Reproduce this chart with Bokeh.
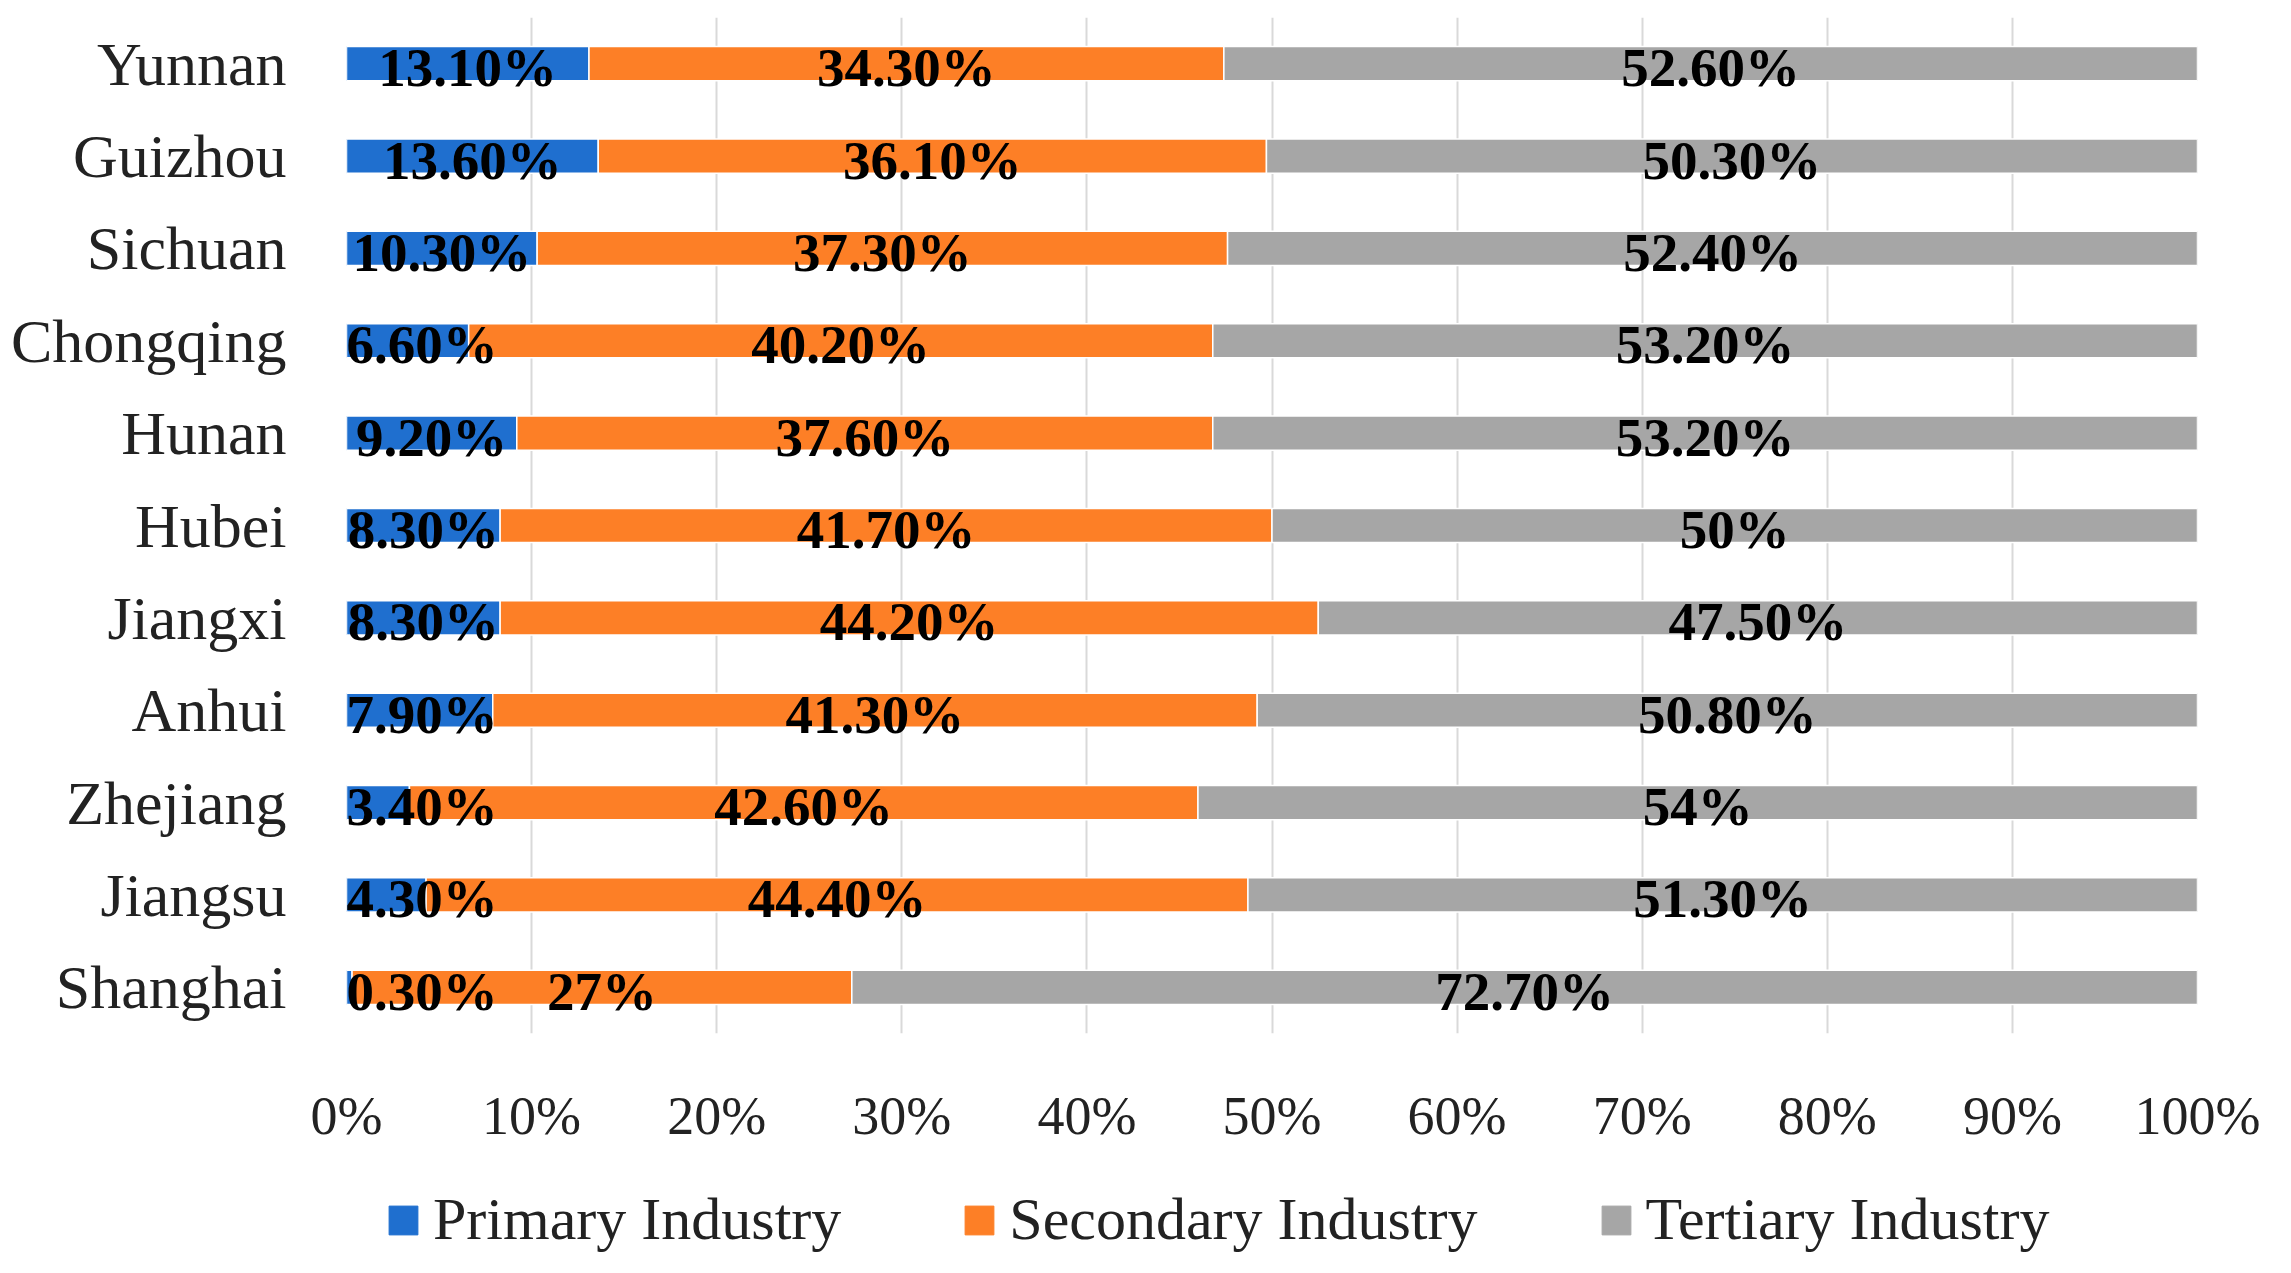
from bokeh.plotting import figure
from bokeh.layouts import column
from bokeh.models import (ColumnDataSource, FactorRange, Range1d, FixedTicker,
                          PrintfTickFormatter, Legend, LegendItem)
from bokeh.core.properties import value
from bokeh.embed import file_html
from bokeh.resources import INLINE

# ---- data (top to bottom as in the chart) ----
provinces = ["Yunnan", "Guizhou", "Sichuan", "Chongqing", "Hunan", "Hubei",
             "Jiangxi", "Anhui", "Zhejiang", "Jiangsu", "Shanghai"]
primary = [13.1, 13.6, 10.3, 6.6, 9.2, 8.3, 8.3, 7.9, 3.4, 4.3, 0.3]
secondary = [34.3, 36.1, 37.3, 40.2, 37.6, 41.7, 44.2, 41.3, 42.6, 44.4, 27.0]
tertiary = [52.6, 50.3, 52.4, 53.2, 53.2, 50.0, 47.5, 50.8, 54.0, 51.3, 72.7]
series_names = ["Primary Industry", "Secondary Industry", "Tertiary Industry"]
x_ticks = [0, 10, 20, 30, 40, 50, 60, 70, 80, 90, 100]

colors = ["#1F6FCF", "#FD7F26", "#A6A6A6"]
SERIF = "Liberation Serif"

W = 2275
MAIN_H = 1170
FL, FR, FT, FB = 346, 78, 17, 137   # frame 1851 x 1016
FRAME_W = W - FL - FR

p = figure(width=W, height=MAIN_H, output_backend="svg",
           toolbar_location=None, title=None,
           y_range=FactorRange(factors=list(reversed(provinces)), range_padding=0),
           x_range=Range1d(0, 100),
           min_border_left=FL, min_border_right=FR, min_border_top=FT,
           min_border_bottom=FB)
p.outline_line_color = None
p.background_fill_color = "white"
p.border_fill_color = "white"

def fmt(v):
    return "%d%%" % round(v) if abs(v - round(v)) < 1e-9 else "%.2f%%" % v

all_series = [primary, secondary, tertiary]
label_x, label_y, label_t = [], [], []
px_per_unit = FRAME_W / 100.0
lab_size = 55
for i, vals in enumerate(all_series):
    left = [sum(s[k] for s in all_series[:i]) for k in range(len(provinces))]
    right = [l + v for l, v in zip(left, vals)]
    src = ColumnDataSource(dict(y=provinces, left=left, right=right))
    p.hbar(y="y", left="left", right="right", height=0.37, source=src,
           fill_color=colors[i], line_color="white", line_width=1.5)
    for k, v in enumerate(vals):
        t = fmt(v)
        wpx = lab_size * sum(1.0 if c == "%" else (0.25 if c == "." else 0.5) for c in t)
        half = wpx / 2 / px_per_unit
        mid = (left[k] + right[k]) / 2
        label_x.append(max(mid, half))
        label_y.append(provinces[k])
        label_t.append(t)

lsrc = ColumnDataSource(dict(x=label_x, y=label_y, t=label_t))
p.text(x="x", y="y", text="t", source=lsrc, text_align="center",
       text_baseline="middle", y_offset=4, text_font=value(SERIF),
       text_font_style="bold", text_font_size="%dpx" % lab_size, text_color="black")

# axes
p.xaxis.ticker = FixedTicker(ticks=x_ticks)
p.xaxis.formatter = PrintfTickFormatter(format="%d%%")
p.xaxis.axis_line_color = None
p.xaxis.major_tick_line_color = None
p.xaxis.minor_tick_line_color = None
p.xaxis.major_tick_out = 0
p.xaxis.major_tick_in = 0
p.xaxis.major_label_standoff = 52
p.xaxis.major_label_text_font = SERIF
p.xaxis.major_label_text_font_size = "54px"
p.xaxis.major_label_text_color = "#222222"

p.yaxis.axis_line_color = None
p.yaxis.major_tick_line_color = None
p.yaxis.minor_tick_line_color = None
p.yaxis.major_tick_out = 0
p.yaxis.major_tick_in = 0
p.yaxis.major_label_standoff = 60
p.yaxis.major_label_text_font = SERIF
p.yaxis.major_label_text_font_size = "62px"
p.yaxis.major_label_text_color = "#222222"

p.ygrid.grid_line_color = None
p.xgrid.grid_line_color = "#D9D9D9"
p.xgrid.grid_line_width = 2

# ---- legend strip (separate figure below the chart) ----
lg = figure(width=W, height=90, output_backend="svg", toolbar_location=None,
            title=None, x_range=Range1d(0, 1), y_range=Range1d(0, 1),
            min_border_left=FL, min_border_right=FR, min_border_top=0,
            min_border_bottom=0)
lg.axis.visible = False
lg.grid.visible = False
lg.outline_line_color = None
lg.background_fill_color = "white"
lg.border_fill_color = "white"
items = []
for name, c in zip(series_names, colors):
    # off-screen swatch renderer (outside the 0..1 ranges) only used for the legend key
    r = lg.quad(left=[5], right=[6], top=[6], bottom=[5], fill_color=c, line_color=c)
    items.append(LegendItem(label=name, renderers=[r]))

legend = Legend(items=items, orientation="horizontal", location=(39, 6))
legend.label_text_font = SERIF
legend.label_text_font_size = "60px"
legend.label_text_color = "#222222"
legend.glyph_width = 36
legend.glyph_height = 36
legend.label_standoff = 12
legend.spacing = 120
legend.border_line_color = None
legend.background_fill_alpha = 0
legend.margin = 0
legend.padding = 4
lg.add_layout(legend, "center")

layout = column(p, lg, spacing=0)
open("out.html", "w").write(file_html(layout, INLINE))
